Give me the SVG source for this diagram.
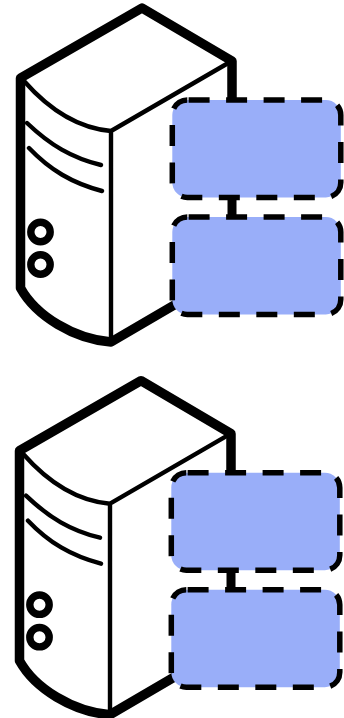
<svg xmlns="http://www.w3.org/2000/svg" width="344" height="718" viewBox="0 0 344 718">
<style>
.thick{fill:none;stroke:#000;stroke-width:9.5;stroke-linejoin:round;stroke-linecap:round}
.thin{fill:none;stroke:#000;stroke-width:4.4;stroke-linecap:round;stroke-linejoin:round}
.led{fill:#fff;stroke:#000;stroke-width:7.4}
.box{fill:#99aef9;stroke:#000;stroke-width:5.5;stroke-dasharray:21 16.5;stroke-dashoffset:-1.3}
.link{fill:none;stroke:#000;stroke-width:9}
</style>
<defs>
<g id="server">
<path d="M20 78L142 8L232 61V100M20 78V288C38 318 76 338 111 342L176 304" fill="#fff" stroke="none"/>
<path class="thick" d="M232 100V61L142 8L20.500 78V288C36 316 74 339 111 342L176 304"/>
<path class="thin" d="M24 81C46 106 76 128 111 131L230 62M111 131V340M27 123C50 145 72 158 101 165M29 148C50 170 72 183 102 191"/>
<circle class="led" cx="40.500" cy="232" r="9.700"/>
<circle class="led" cx="40.500" cy="264.500" r="9.700"/>
</g>
</defs>
<g id="server-1"><use href="#server"/></g>
<g id="server-2"><use href="#server" transform="translate(-1 372.7)"/></g>
<g id="connectors">
<path class="link" d="M232 197V217"/>
<path class="link" d="M231 570V590"/>
</g>
<g id="box-1"><rect class="box" x="172.300" y="100" width="168.500" height="97.500" rx="15"/></g>
<g id="box-2"><rect class="box" x="172.300" y="217" width="168.500" height="97.500" rx="15"/></g>
<g id="box-3"><rect class="box" x="171.300" y="472.700" width="168.500" height="97.500" rx="15"/></g>
<g id="box-4"><rect class="box" x="171.300" y="589.700" width="168.500" height="97.500" rx="15"/></g>
</svg>
